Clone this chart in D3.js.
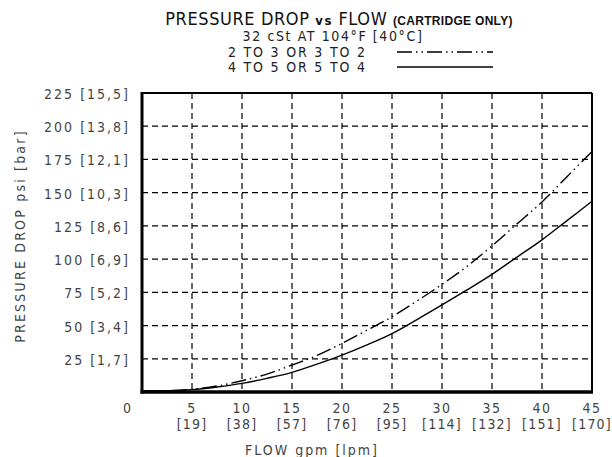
<!DOCTYPE html>
<html><head><meta charset="utf-8">
<script src="https://cdn.jsdelivr.net/npm/d3@7"></script>
<style>body{margin:0;background:#fff;} text{font-family:"DejaVu Sans Condensed","Liberation Sans Narrow",sans-serif;}</style>
</head><body>
<svg id="c" width="612" height="457"></svg>
<script>
const flowGpm = [0, 2.5, 5, 7.5, 10, 12.5, 15, 17.5, 20, 22.5, 25, 27.5, 30, 32.5, 35, 37.5, 40, 42.5, 45];
const series2to3 = [0.8, 1.0, 2.0, 4.5, 8.5, 13.5, 20.3, 27.5, 36.6, 46.5, 56.6, 68.5, 81, 94.5, 110, 126.5, 143, 162, 181];
const series4to5 = [0.8, 1.0, 1.8, 3.8, 6.5, 10.3, 14.8, 21, 27.8, 35.5, 44, 54.5, 65.5, 76.8, 88.5, 101.5, 114.5, 129, 143.5];
const xTicks = [5, 10, 15, 20, 25, 30, 35, 40, 45];
const xTickLpm = ["[19]", "[38]", "[57]", "[76]", "[95]", "[114]", "[132]", "[151]", "[170]"];
const yTicks = [25, 50, 75, 100, 125, 150, 175, 200, 225];
const yTickBar = ["[1,7]", "[3,4]", "[5,2]", "[6,9]", "[8,6]", "[10,3]", "[12,1]", "[13,8]", "[15,5]"];
const legendLabels = ["2 TO 3 OR 3 TO 2", "4 TO 5 OR 5 TO 4"];

const svg = d3.select("#c");
const L = 142, R = 592, T = 93, B = 392;
const x = d3.scaleLinear().domain([0, 45]).range([L, R]);
const y = d3.scaleLinear().domain([0, 225]).range([B, T]);
const txt = "#444";
const dashDot = "15,4,1.5,4,1.5,4";

// grid
svg.selectAll(".vg").data(xTicks.slice(0, -1)).join("line")
  .attr("x1", d => x(d)).attr("x2", d => x(d)).attr("y1", T).attr("y2", B)
  .attr("stroke", "#000").attr("stroke-width", 1.2).attr("stroke-dasharray", "6,4");
svg.selectAll(".hg").data(yTicks.slice(0, -1)).join("line")
  .attr("x1", L).attr("x2", R).attr("y1", d => y(d)).attr("y2", d => y(d))
  .attr("stroke", "#000").attr("stroke-width", 1.2).attr("stroke-dasharray", "6,4");

// curves
const line = d3.line().x((d, i) => x(flowGpm[i])).y(d => y(d)).curve(d3.curveMonotoneX);
svg.append("path").attr("d", line(series2to3)).attr("fill", "none").attr("stroke", "#000")
  .attr("stroke-width", 1.4).attr("stroke-dasharray", dashDot);
svg.append("path").attr("d", line(series4to5)).attr("fill", "none").attr("stroke", "#000")
  .attr("stroke-width", 1.4);

// frame
svg.append("line").attr("x1", L).attr("x2", R).attr("y1", T).attr("y2", T).attr("stroke", "#000").attr("stroke-width", 2);
svg.append("line").attr("x1", R).attr("x2", R).attr("y1", T).attr("y2", B).attr("stroke", "#000").attr("stroke-width", 2);
svg.append("line").attr("x1", L).attr("x2", L).attr("y1", T - 1).attr("y2", B + 1.5).attr("stroke", "#000").attr("stroke-width", 3);
svg.append("line").attr("x1", L - 1.5).attr("x2", R + 1).attr("y1", B).attr("y2", B).attr("stroke", "#000").attr("stroke-width", 3.5);

// y tick labels
svg.selectAll(".yl").data(yTicks).join("text")
  .attr("x", 130).attr("y", d => y(d) + 6).attr("text-anchor", "end")
  .attr("font-size", 14).attr("fill", txt).attr("letter-spacing", 2)
  .text((d, i) => d + " " + yTickBar[i]);
svg.append("text").attr("x", 127).attr("y", 413).attr("text-anchor", "middle")
  .attr("font-size", 14).attr("fill", txt).text("0");

// x tick labels
svg.selectAll(".xl").data(xTicks).join("text")
  .attr("x", d => x(d)).attr("y", 413).attr("text-anchor", "middle")
  .attr("font-size", 14).attr("fill", txt).attr("letter-spacing", 1.5).text(d => d);
svg.selectAll(".xl2").data(xTicks).join("text")
  .attr("x", d => x(d)).attr("y", 429).attr("text-anchor", "middle")
  .attr("font-size", 14).attr("fill", txt).attr("letter-spacing", 1.2).text((d, i) => xTickLpm[i]);

// axis titles
svg.append("text").attr("x", 312).attr("y", 455).attr("text-anchor", "middle")
  .attr("font-size", 14).attr("fill", txt).attr("letter-spacing", 2).text("FLOW gpm [lpm]");
svg.append("text").attr("transform", "translate(25,236) rotate(-90)").attr("text-anchor", "middle")
  .attr("font-size", 14).attr("fill", txt).attr("letter-spacing", 2.2).text("PRESSURE DROP psi [bar]");

// title
const t = svg.append("text").attr("x", 339).attr("y", 25).attr("text-anchor", "middle").attr("fill", "#111");
t.append("tspan").attr("font-size", 18).attr("letter-spacing", 0.6).text("PRESSURE DROP ");
t.append("tspan").attr("font-size", 13).attr("font-weight", "bold").attr("letter-spacing", 1.5).text("vs ");
t.append("tspan").attr("font-size", 18).attr("letter-spacing", 0.6).text("FLOW ");
t.append("tspan").attr("font-size", 12).attr("font-weight", "bold").attr("letter-spacing", 0.3)
  .attr("style", "font-family:'Liberation Sans Narrow',sans-serif").text("(CARTRIDGE ONLY)");
svg.append("text").attr("x", 333).attr("y", 41).attr("text-anchor", "middle")
  .attr("font-size", 14).attr("fill", "#222").attr("letter-spacing", 1.6).text("32 cSt AT 104°F [40°C]");

// legend
const legendDash = [dashDot, null];
legendLabels.forEach((lab, i) => {
  const ly = 52 + i * 15;
  svg.append("text").attr("x", 228).attr("y", ly + 5).attr("font-size", 14).attr("fill", "#222")
    .attr("letter-spacing", 1.8).text(lab);
  const ln = svg.append("line").attr("x1", 397).attr("x2", 493).attr("y1", ly).attr("y2", ly)
    .attr("stroke", "#000").attr("stroke-width", 1.5);
  if (legendDash[i]) ln.attr("stroke-dasharray", legendDash[i]);
});
</script>
</body></html>
